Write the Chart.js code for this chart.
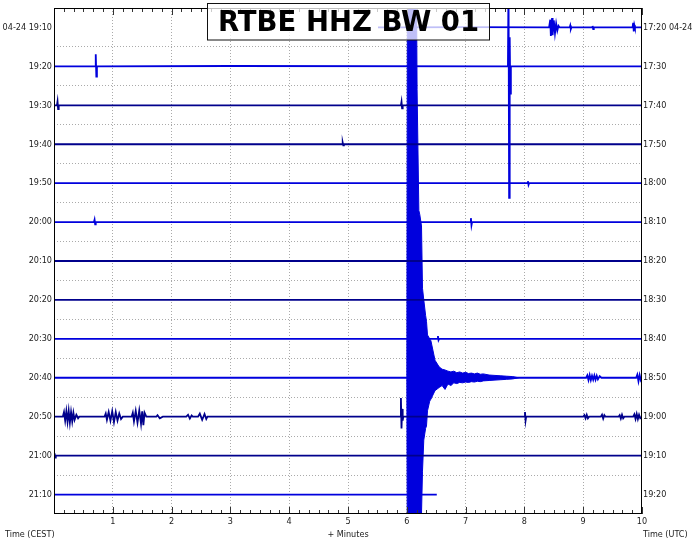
<!DOCTYPE html>
<html>
<head>
<meta charset="utf-8">
<script src="https://cdn.jsdelivr.net/npm/chart.js@4/dist/chart.umd.min.js"></script>
<style>
html,body{margin:0;padding:0;background:#fff;}
#wrap{width:696px;height:541px;position:relative;}
</style>
</head>
<body>
<div id="wrap"><canvas id="c" width="696" height="541"></canvas></div>
<script>
// ---------- data ----------
const title = 'RTBE HHZ BW 01';
const leftLabels = ['04-24 19:10','19:20','19:30','19:40','19:50','20:00','20:10','20:20','20:30','20:40','20:50','21:00','21:10'];
const rightLabels = ['17:20 04-24','17:30','17:40','17:50','18:00','18:10','18:20','18:30','18:40','18:50','19:00','19:10','19:20'];
const xTickValues = [1,2,3,4,5,6,7,8,9,10];
const xTickLabels = ['1','2','3','4','5','6','7','8','9','10'];
const leftAxisLabel = 'Time (CEST)';
const rightAxisLabel = 'Time (UTC)';
const xAxisLabel = '+ Minutes';

// trace points: [minute, amplitude in row heights (+ = up)]
const row1910 = [[5.51,0],[6.0,0],[7.0,0.01],[8.42,0],[8.44,0.2],[8.45,-0.22],[8.47,0.24],[8.48,-0.2],[8.5,0.18],[8.52,-0.15],[8.54,0.1],[8.56,-0.08],[8.58,0.04],[8.6,0],[8.77,0],[8.78,0.05],[8.79,-0.04],[8.8,0],[9.15,0],[9.16,0.04],[9.17,-0.04],[9.18,0],[9.84,0],[9.85,0.12],[9.86,-0.1],[9.87,0.06],[9.88,0],[10,0]];
const row1920 = [[0,0],[0.70,0],[0.71,0.31],[0.72,-0.26],[0.73,0],[3.0,0.01],[7.72,0],[7.73,2.2],[7.74,-3.38],[7.75,0.75],[7.76,-0.7],[7.77,0],[10,0]];
const row1930 = [[0,0],[0.05,0],[0.06,0.1],[0.07,-0.1],[0.08,0],[5.9,0],[5.91,0.09],[5.92,-0.08],[5.93,0],[10,0]];
const row1940 = [[0,0],[4.9,0],[4.91,0.04],[4.92,-0.03],[4.93,0],[10,0]];
const row1950 = [[0,0],[8.05,0],[8.06,0.05],[8.07,-0.04],[8.08,0],[10,0]];
const row2000 = [[0,0],[0.68,0],[0.69,0.06],[0.7,-0.06],[0.71,0],[7.08,0],[7.09,0.1],[7.1,-0.08],[7.11,0],[10,0]];
const row2010 = [[0,0],[10,0]];
const row2020 = [[0,0],[10,0]];
const row2030 = [[0,0],[6.52,0],[6.53,0.07],[6.54,-0.03],[6.55,0],[10,0]];
const row2040 = [[0,0],[6.0,0],[7.9,0],
  [9.05,0],[9.07,0.06],[9.09,-0.06],[9.11,0.07],[9.13,-0.06],[9.15,0.05],[9.17,-0.05],[9.19,0.06],[9.21,-0.05],[9.23,0.05],[9.25,-0.04],[9.28,0.04],[9.31,0],[9.9,0],[9.92,0.08],[9.94,-0.09],[9.96,0.07],[9.98,-0.06],[10,0]];
const row2050 = [[0,0],[0.15,0],[0.17,0.12],[0.19,-0.1],[0.21,0.14],[0.23,-0.13],[0.25,0.15],[0.27,-0.15],[0.29,0.12],[0.31,-0.12],[0.33,0.1],[0.35,-0.08],[0.38,0.05],[0.41,-0.04],[0.43,0],
  [0.86,0],[0.88,0.08],[0.9,-0.08],[0.93,0.12],[0.96,-0.1],[0.99,0.14],[1.02,-0.14],[1.05,0.12],[1.08,-0.1],[1.11,0.08],[1.14,-0.06],[1.17,0],
  [1.32,0],[1.34,0.1],[1.36,-0.12],[1.39,0.15],[1.42,-0.15],[1.45,0.16],[1.48,-0.18],[1.5,0.14],[1.52,-0.22],[1.54,0.1],[1.57,0],
  [1.74,0],[1.76,0.04],[1.8,-0.04],[1.85,0],[2.25,0],[2.28,0.05],[2.31,-0.05],[2.34,0.03],[2.36,0],[2.45,0],[2.48,0.08],[2.52,-0.08],[2.56,0.07],[2.59,-0.06],[2.61,0],
  [5.89,0],[5.9,0.48],[5.91,-0.3],[5.92,0.2],[5.93,-0.1],[5.94,0],
  [8.0,0],[8.01,0.12],[8.02,-0.1],[8.03,0],
  [9.0,0],[9.02,0.04],[9.04,-0.04],[9.06,0.05],[9.08,-0.04],[9.1,0],[9.3,0],[9.32,0.05],[9.34,-0.05],[9.36,0.04],[9.38,0],[9.6,0],[9.62,0.04],[9.64,-0.05],[9.66,0.05],[9.68,-0.04],[9.7,0],[9.85,0],[9.87,0.06],[9.89,-0.06],[9.91,0.07],[9.93,-0.06],[9.95,0.05],[9.97,-0.04],[10,0]];
const row2100 = [[0,0],[0.01,0.06],[0.02,-0.05],[0.03,0],[10,0]];
const row2110 = [[0,0],[6.51,0]];

// earthquake envelope on the 20:40 row (row heights above / below the row line)
const quakeX    = [6.0, 6.01, 6.165, 6.175, 6.19, 6.205, 6.22, 6.25, 6.267, 6.289, 6.32, 6.335, 6.352, 6.39, 6.41, 6.48, 6.55, 6.6,  6.65, 6.7,  6.75, 6.8,  6.85, 6.9,  6.95, 7.0,  7.05, 7.1,  7.15, 7.2,  7.25, 7.3,  7.4,  7.5,  7.6,  7.7,  7.8,  7.9];
const quakeUp   = [0,   10,   10,    7.4,   7.4,  4.3,   4.2,  3.9,  2.3,   2.0,   1.6,  1.45,  1.1,   1.0,  0.95, 0.45, 0.28, 0.22, 0.2,  0.17, 0.15, 0.17, 0.13, 0.15, 0.12, 0.14, 0.11, 0.12, 0.1,  0.12, 0.09, 0.1,  0.07, 0.06, 0.05, 0.04, 0.03, 0];
const quakeDown = [0,   5,    5,     5,     5,    5,     5,    3.5,  2.4,   1.6,   1.3,  1.24,  0.85,  0.6,  0.55, 0.33, 0.25, 0.2,  0.3,  0.16, 0.2,  0.13, 0.15, 0.12, 0.13, 0.11, 0.12, 0.1,  0.11, 0.09, 0.1,  0.08, 0.07, 0.06, 0.05, 0.04, 0.03, 0];
const quakeRow = 9;

const rows = [row1910,row1920,row1930,row1940,row1950,row2000,row2010,row2020,row2030,row2040,row2050,row2100,row2110];

// ---------- styles ----------
const BLUE = '#0000dd', NAVY = '#00008c';
const rowColors = [BLUE,BLUE,NAVY,NAVY,BLUE,BLUE,NAVY,NAVY,BLUE,BLUE,NAVY,NAVY,BLUE];
const FONT = "'DejaVu Sans Condensed', 'DejaVu Sans', sans-serif";
const TXT = '#222';

const datasets = rows.map((tr, i) => ({
  data: tr.map(([x, a]) => ({x: x, y: i - a})),
  borderColor: rowColors[i], borderWidth: 1.8, pointRadius: 0, fill: false,
  tension: 0, clip: 0, yAxisID: 'yl', xAxisID: 'x'
}));
datasets.push({
  data: quakeX.map((x, k) => ({x: x, y: quakeRow - quakeUp[k]})),
  borderColor: BLUE, backgroundColor: BLUE, borderWidth: 1, pointRadius: 0,
  fill: '+1', tension: 0, clip: 0, yAxisID: 'yl', xAxisID: 'x'
});
datasets.push({
  data: quakeX.map((x, k) => ({x: x, y: quakeRow + quakeDown[k]})),
  borderColor: BLUE, borderWidth: 1, pointRadius: 0,
  fill: false, tension: 0, clip: 0, yAxisID: 'yl', xAxisID: 'x'
});

const rowIdx = leftLabels.map((_, i) => i);
const boundaries = leftLabels.slice(1).map((_, i) => i + 0.5);

const frameAndTicks = {
  id: 'frameAndTicks',
  afterDraw(chart) {
    const {ctx, chartArea: a, scales} = chart;
    const xs = scales.x;
    ctx.save();
    ctx.strokeStyle = '#333'; ctx.lineWidth = 1;
    ctx.beginPath();
    for (let k = 0; k <= 60; k++) {
      const px = Math.round(xs.getPixelForValue(k / 6)) + 0.5;
      const len = (k % 6 === 0) ? 7 : 4;
      ctx.moveTo(px, a.top); ctx.lineTo(px, a.top + len);
      ctx.moveTo(px, a.bottom); ctx.lineTo(px, a.bottom - len);
    }
    ctx.stroke();
    ctx.strokeStyle = '#000';
    ctx.strokeRect(a.left + 0.5, a.top + 0.5, a.right - a.left - 1, a.bottom - a.top - 1);
    ctx.fillStyle = TXT; ctx.font = '9px ' + FONT; ctx.textBaseline = 'middle';
    ctx.textAlign = 'left';
    ctx.fillText(leftAxisLabel, 5, 534.5);
    ctx.fillText(rightAxisLabel, a.right + 1, 534.5);
    ctx.fillStyle = 'rgba(255,255,255,0.75)';
    ctx.fillRect(207.5, 3.5, 282, 36.5);
    ctx.strokeStyle = '#111';
    ctx.strokeRect(207.5, 3.5, 282, 36.5);
    ctx.fillStyle = '#000';
    ctx.font = "bold 27.5px 'DejaVu Sans', sans-serif";
    ctx.textAlign = 'center'; ctx.textBaseline = 'alphabetic';
    ctx.fillText(title, 348.5, 30.5);
    ctx.restore();
  }
};

new Chart(document.getElementById('c'), {
  type: 'line',
  data: {datasets},
  plugins: [frameAndTicks],
  options: {
    responsive: false, animation: false, events: [],
    layout: {padding: {top: 8, left: 0, right: 0, bottom: 0}},
    plugins: {legend: {display: false}, tooltip: {enabled: false}},
    scales: {
      x: {
        type: 'linear', position: 'bottom', min: 0, max: 10,
        afterBuildTicks: s => { s.ticks = xTickValues.map(v => ({value: v})); },
        afterFit: s => { s.height = 27; },
        ticks: {autoSkip: false, maxRotation: 0, padding: 2, color: TXT, font: {size: 9, family: FONT},
          callback: (v, i) => xTickLabels[i]},
        grid: {drawTicks: false, lineWidth: 1,
          color: c => (c.tick && c.tick.value > 0 && c.tick.value < 10) ? '#aaaaaa' : 'rgba(0,0,0,0)'},
        border: {display: false, dash: [1, 2]},
        title: {display: true, text: xAxisLabel, color: TXT, font: {size: 9, family: FONT}, padding: {top: 0, bottom: 1}}
      },
      yl: {
        type: 'linear', axis: 'y', position: 'left', min: -0.5, max: 12.5, reverse: true, display: true,
        afterBuildTicks: s => { s.ticks = rowIdx.map(v => ({value: v})); },
        afterFit: s => { s.width = 54; },
        ticks: {autoSkip: false, padding: 2, color: TXT, font: {size: 9, family: FONT},
          callback: (v, i) => leftLabels[i]},
        grid: {display: false, drawTicks: false},
        border: {display: false}
      },
      yg: {
        type: 'linear', axis: 'y', position: 'left', min: -0.5, max: 12.5, reverse: true, display: true,
        afterBuildTicks: s => { s.ticks = boundaries.map(v => ({value: v})); },
        afterFit: s => { s.width = 0; },
        ticks: {display: false},
        grid: {drawTicks: false, color: '#aaaaaa', lineWidth: 1},
        border: {display: false, dash: [1, 2]}
      },
      yr: {
        type: 'linear', axis: 'y', position: 'right', min: -0.5, max: 12.5, reverse: true, display: true,
        afterBuildTicks: s => { s.ticks = rowIdx.map(v => ({value: v})); },
        afterFit: s => { s.width = 54; },
        ticks: {autoSkip: false, padding: 1, color: TXT, font: {size: 9, family: FONT},
          callback: (v, i) => rightLabels[i]},
        grid: {display: false, drawTicks: false},
        border: {display: false}
      }
    }
  }
});
</script>
</body>
</html>
